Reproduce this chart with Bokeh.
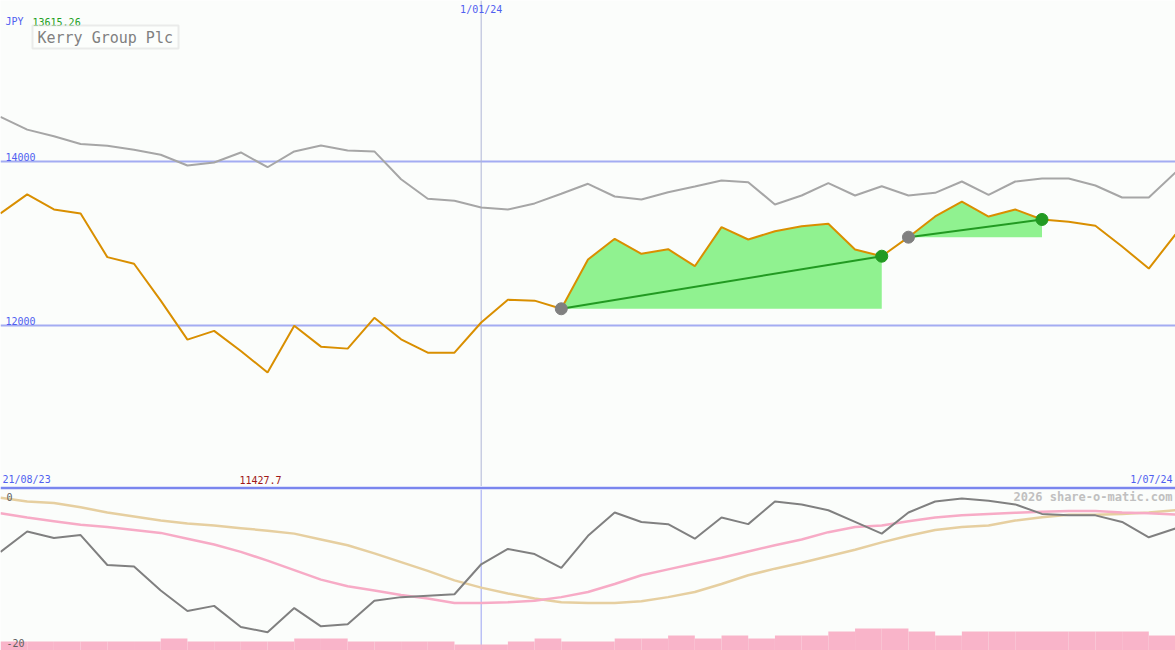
import numpy as np
import pandas as pd
from bokeh.plotting import figure
from bokeh.models import Range1d, Label, BoxAnnotation, Span
from bokeh.layouts import column
from bokeh.embed import file_html
from bokeh.resources import INLINE

# ---------------- data ----------------
dates = pd.date_range("2023-08-28", periods=45, freq="7D")

price = [13366, 13599, 13415, 13366, 12834, 12753, 12303, 11828, 11935, 11689,
         11427.7, 11996, 11742, 11718, 12094, 11832, 11669, 11669, 12037, 12315,
         12303, 12204, 12805, 13057, 12874, 12931, 12723, 13199, 13049, 13150,
         13211, 13240, 12927, 12845, 13077, 13330, 13512, 13329, 13415, 13293,
         13265, 13216, 12963, 12695, 13110]

compare = [14544, 14389, 14307, 14213, 14192, 14143, 14082, 13951, 13988, 14110,
           13930, 14123, 14196, 14135, 14123, 13783, 13546, 13521, 13440, 13415,
           13489, 13606, 13728, 13573, 13537, 13626, 13695, 13768, 13748, 13476,
           13585, 13736, 13585, 13699, 13585, 13618, 13756, 13594, 13756, 13793,
           13793, 13707, 13561, 13561, 13866]

momentum = [-6.9, -4.1, -5.0, -4.6, -8.7, -8.9, -12.2, -15.0, -14.3, -17.2,
            -17.9, -14.6, -17.1, -16.8, -13.6, -13.1, -12.9, -12.7, -8.6, -6.5,
            -7.2, -9.1, -4.7, -1.5, -2.8, -3.1, -5.1, -2.2, -3.1, 0.0,
            -0.4, -1.2, -2.8, -4.4, -1.5, 0.0, 0.4, 0.1, -0.4, -1.7,
            -1.9, -1.9, -2.8, -4.9, -3.7]

avg_fast = [-1.6, -2.2, -2.7, -3.2, -3.5, -3.9, -4.3, -5.1, -5.9, -6.9,
            -8.1, -9.4, -10.7, -11.6, -12.2, -12.8, -13.3, -13.9, -13.9, -13.8,
            -13.6, -13.1, -12.4, -11.3, -10.1, -9.3, -8.5, -7.7, -6.85, -6.0,
            -5.2, -4.2, -3.5, -3.3, -2.7, -2.2, -1.9, -1.7, -1.55, -1.4,
            -1.3, -1.3, -1.5, -1.6, -1.8]

avg_slow = [0.5, 0.0, -0.2, -0.8, -1.5, -2.05, -2.6, -3.0, -3.3, -3.65,
            -4.0, -4.4, -5.2, -6.0, -7.1, -8.3, -9.5, -10.8, -11.8, -12.6,
            -13.3, -13.8, -13.9, -13.9, -13.65, -13.1, -12.4, -11.3, -10.1, -9.2,
            -8.4, -7.5, -6.6, -5.6, -4.7, -3.9, -3.5, -3.3, -2.6, -2.15,
            -1.8, -1.8, -1.7, -1.5, -1.2]

volume = [0.9, 0.9, 0.9, 0.9, 0.9, 0.9, 1.2, 0.9, 0.9, 0.9,
          0.9, 1.2, 1.2, 0.9, 0.9, 0.9, 0.9, 0.6, 0.6, 0.9,
          1.2, 0.9, 0.9, 1.2, 1.2, 1.5, 1.2, 1.5, 1.2, 1.5,
          1.5, 1.9, 2.2, 2.2, 1.9, 1.5, 1.9, 1.9, 1.9, 1.9,
          1.9, 1.9, 1.9, 1.5]

trade_start = [21, 34]
trade_end = [33, 39]

gridlines = [12000, 14000]
marker_date = "2024-01-01"
currency = "JPY"
last_price = "13615.26"
title_text = "Kerry Group Plc"
start_label = "21/08/23"
end_label = "1/07/24"
mid_label = "1/01/24"
min_label = "11427.7"
lower_ticks = [("0", 0), ("-20", -20)]

# ---------------- layout helpers ----------------
W = 1175
H_TOP = 486
H_BOT = 164
BG = "#fbfdfb"
BLUE_TXT = "#5060f0"
FONT = "DejaVu Sans Mono"

t0 = dates[0]
t1 = dates[-1]
ms0 = t0.value / 1e6
ms1 = t1.value / 1e6


def xd(px):
    return ms0 + px / 1175.0 * (ms1 - ms0)


def yt(py):
    return 12000 + (325 - py) / 0.082


def yb(py):
    return -(py - 501) / 7.3


# ---------------- top panel ----------------
p = figure(width=W, height=H_TOP, x_axis_type=None, y_axis_type=None,
           x_range=Range1d(t0, t1), y_range=Range1d(yt(486), yt(0)),
           toolbar_location=None, output_backend="svg",
           background_fill_color=BG, border_fill_color=BG,
           min_border=0, outline_line_color=None)

for g in gridlines:
    p.add_layout(Span(location=g, dimension="width", line_color="#a3acf2",
                      line_width=2, level="underlay"))
vline_ms = pd.Timestamp(marker_date).value / 1e6
p.add_layout(Span(location=vline_ms, dimension="height", line_color="#b0b5d6",
                  line_width=1, level="underlay"))

# shaded trades
for s, e in zip(trade_start, trade_end):
    seg_x = dates[s:e + 1]
    seg_y = price[s:e + 1]
    p.varea(x=seg_x, y1=[price[s]] * len(seg_x), y2=seg_y, fill_color="#90f290")

p.line(dates, compare, line_color="#a6a6a6", line_width=2)
p.line(dates, price, line_color="#d98f00", line_width=2)

for s, e in zip(trade_start, trade_end):
    p.line([dates[s], dates[e]], [price[s], price[e]], line_color="#229a22", line_width=2)
p.scatter([dates[i] for i in trade_start], [price[i] for i in trade_start],
          size=12, fill_color="#808080", line_color="#808080")
p.scatter([dates[i] for i in trade_end], [price[i] for i in trade_end],
          size=12, fill_color="#229a22", line_color="#229a22")


def lab(fig, x, y, text, color, size="10px", align="left", font=FONT, style="normal"):
    fig.add_layout(Label(x=x, y=y, text=text, text_color=color, text_font=font,
                         text_font_size=size, text_align=align,
                         text_baseline="middle", text_font_style=style))


lab(p, xd(5), yt(21), currency, BLUE_TXT)
lab(p, xd(32), yt(21), last_price, "#22a022")
p.add_layout(BoxAnnotation(left=xd(32), right=xd(178), top=yt(25), bottom=yt(48),
                           fill_color="#fcfefc", fill_alpha=1.0,
                           line_color="#c4c4c4", line_width=2))
lab(p, xd(37), yt(37), title_text, "#808080", size="15px")
lab(p, vline_ms, yt(9), mid_label, BLUE_TXT, align="center")
for g in gridlines:
    lab(p, xd(5), g + 5 / 0.082, str(g), BLUE_TXT)
lab(p, xd(2), yt(479), start_label, BLUE_TXT)
lab(p, xd(260), yt(479), min_label, "#a01818", align="center")
lab(p, xd(1172), yt(479), end_label, BLUE_TXT, align="right")

# ---------------- bottom panel ----------------
q = figure(width=W, height=H_BOT, x_axis_type=None, y_axis_type=None,
           x_range=Range1d(t0, t1), y_range=Range1d(yb(650), yb(489)),
           toolbar_location=None, output_backend="svg",
           background_fill_color=BG, border_fill_color="#7a86ee",
           min_border=0, min_border_top=3, outline_line_color=None)
q.extra_y_ranges = {"vol": Range1d(0, 16.1)}

q.add_layout(Span(location=vline_ms, dimension="height", line_color="#9aa2f2",
                  line_width=1, level="underlay"))
q.quad(left=dates[:-1], right=dates[1:], bottom=0, top=volume,
       fill_color="#f9b4c9", line_color=None, y_range_name="vol")
q.line(dates, avg_slow, line_color="#e6cfa0", line_width=2.5)
q.line(dates, avg_fast, line_color="#f7abc6", line_width=2.5)
q.line(dates, momentum, line_color="#808080", line_width=2)

for t, v in lower_ticks:
    lab(q, xd(6), v + 5 / 7.3, t, "#606060")
lab(q, xd(1172), yb(496), "2026 share-o-matic.com", "#c0c0c0", size="12px",
    align="right", style="bold")

layout = column(p, q, spacing=0)
open("out.html", "w").write(file_html(layout, INLINE))
